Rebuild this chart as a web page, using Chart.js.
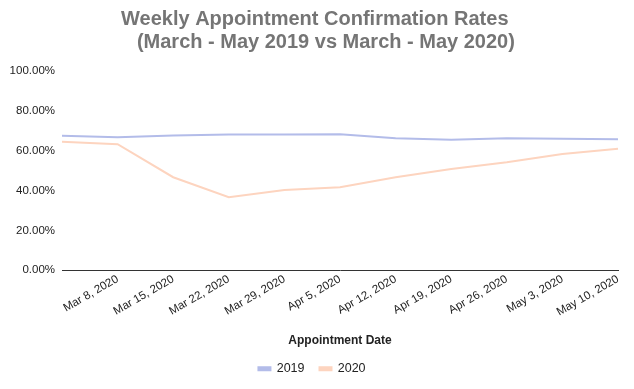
<!DOCTYPE html>
<html>
<head>
<meta charset="utf-8">
<script src="https://cdn.jsdelivr.net/npm/chart.js@4.4.0/dist/chart.umd.min.js"></script>
<style>
    html, body { margin: 0; padding: 0; background: #fff; }
    #wrap { width: 634px; height: 389px; }
</style>
</head>
<body>
<div id="wrap"><canvas id="chart"></canvas></div>
<script>
// Week labels (first one is not shown on the axis in the original)
const weeks = ['Mar 1, 2020', 'Mar 8, 2020', 'Mar 15, 2020', 'Mar 22, 2020', 'Mar 29, 2020',
    'Apr 5, 2020', 'Apr 12, 2020', 'Apr 19, 2020', 'Apr 26, 2020', 'May 3, 2020', 'May 10, 2020'];

// Confirmation rates (fraction)
const rates2019 = [0.675, 0.668, 0.677, 0.682, 0.682, 0.683, 0.663, 0.655, 0.662, 0.66, 0.658];
const rates2020 = [0.645, 0.633, 0.467, 0.367, 0.403, 0.417, 0.467, 0.508, 0.542, 0.583, 0.61];

const yTicks = [0, 0.2, 0.4, 0.6, 0.8, 1];

const FONT = '"Liberation Sans", Arial, sans-serif';

const ctx = document.getElementById('chart');

new Chart(ctx, {
    type: 'line',
    data: {
        labels: weeks,
        datasets: [
            {
                label: '2019',
                data: rates2019,
                borderColor: '#b3bce9',
                backgroundColor: '#b3bce9',
                borderWidth: 2,
                pointRadius: 0,
                tension: 0
            },
            {
                label: '2020',
                data: rates2020,
                borderColor: '#fdd4bf',
                backgroundColor: '#fdd4bf',
                borderWidth: 2,
                pointRadius: 0,
                tension: 0
            }
        ]
    },
    options: {
        responsive: true,
        maintainAspectRatio: false,
        animation: false,
        layout: {
            padding: { left: 6, right: 16, top: 8, bottom: 4 }
        },
        plugins: {
            title: {
                display: true,
                // leading spaces nudge the lines right like the original
                text: [' Weekly Appointment Confirmation Rates', '     (March - May 2019 vs March - May 2020)'],
                color: '#757575',
                font: { family: FONT, size: 20, weight: 'bold', lineHeight: 1.15 },
                padding: { top: 0, bottom: 17 }
            },
            legend: {
                position: 'bottom',
                labels: {
                    color: '#222',
                    font: { family: FONT, size: 12.5 },
                    boxWidth: 12,
                    boxHeight: 3,
                    padding: 15
                }
            },
            tooltip: { enabled: false }
        },
        scales: {
            x: {
                offset: false,
                grid: { display: false, drawTicks: false },
                border: { display: true, color: '#333', width: 1 },
                ticks: {
                    color: '#222',
                    font: { family: FONT, size: 11.5 },
                    minRotation: 30,
                    maxRotation: 30,
                    autoSkip: false,
                    padding: 2,
                    callback: (v, i) => i === 0 ? '' : weeks[i]
                },
                title: {
                    display: true,
                    text: 'Appointment Date',
                    color: '#222',
                    font: { family: FONT, size: 12, weight: 'bold' },
                    padding: { top: 12, bottom: 0 }
                }
            },
            y: {
                min: 0,
                max: 1,
                afterBuildTicks: (scale) => {
                    scale.ticks = yTicks.map(v => ({ value: v }));
                },
                afterFit: (scale) => { scale.width = 56; },
                grid: { display: false, drawTicks: false },
                border: { display: false },
                ticks: {
                    color: '#222',
                    font: { family: FONT, size: 11.5 },
                    padding: 7,
                    callback: (v) => (v * 100).toFixed(2) + '%'
                }
            }
        }
    }
});
</script>
</body>
</html>
